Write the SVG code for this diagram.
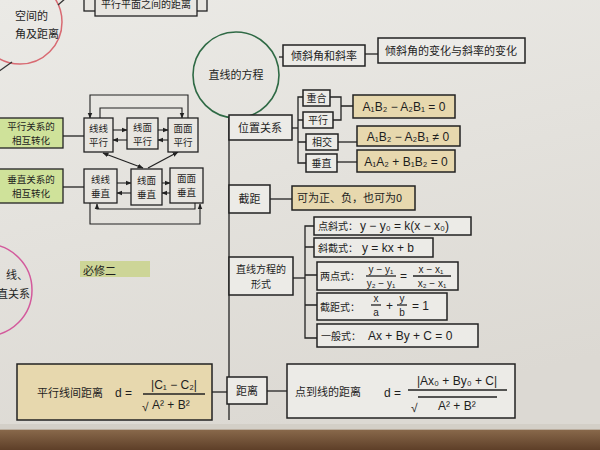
<svg xmlns="http://www.w3.org/2000/svg" width="600" height="450" viewBox="0 0 600 450">
<defs>
<linearGradient id="paper" x1="0" y1="0" x2="0.3" y2="1">
<stop offset="0" stop-color="#ebeae6"/>
<stop offset="1" stop-color="#dcd9d3"/>
</linearGradient>
<linearGradient id="wood" x1="0" y1="0" x2="0" y2="1">
<stop offset="0" stop-color="#8a6a4c"/>
<stop offset="1" stop-color="#5e3f28"/>
</linearGradient>
<marker id="ah" viewBox="0 0 10 10" refX="9" refY="5" markerWidth="6" markerHeight="6" markerUnits="userSpaceOnUse" orient="auto-start-reverse">
<path d="M0,1 L10,5 L0,9 z" fill="#222"/>
</marker>
<style>
.t{font-family:"Noto Sans CJK SC","Noto Sans",sans-serif;font-size:11px;fill:#1e1e1e}
.c{font-family:"Noto Sans CJK SC","Noto Sans",sans-serif;font-size:10px;fill:#1e1e1e}
.k{font-family:"Noto Sans CJK SC","Noto Sans",sans-serif;font-size:9.5px;fill:#1e1e1e}
.m{font-family:"Liberation Sans","DejaVu Sans",sans-serif;font-size:12px;fill:#1e1e1e}
.s{font-family:"Liberation Sans","DejaVu Sans",sans-serif;font-size:10px;fill:#1e1e1e}
.box{fill:#e8e6e1;stroke:#222;stroke-width:1.3}
.wbox{fill:#ecebe7;stroke:#222;stroke-width:1.5}
.beige{fill:#e7d8ae;stroke:#222;stroke-width:1.5}
.green{fill:#cfe29a;stroke:#222;stroke-width:1.3}
.ln{fill:none;stroke:#222;stroke-width:1.3}
.arr{fill:none;stroke:#222;stroke-width:1.1;marker-end:url(#ah)}
</style>
</defs>
<rect x="0" y="0" width="600" height="450" fill="url(#paper)"/>
<rect x="0" y="429" width="600" height="21" fill="url(#wood)"/>
<rect x="0" y="424" width="600" height="6" fill="#cfcac2" opacity="0.7"/>

<g id="circle-space">
<circle cx="20" cy="22" r="42" fill="none" stroke="#d86a72" stroke-width="1.5"/>
<line x1="58" y1="5" x2="66" y2="-2" stroke="#333" stroke-width="1.3"/>
<line x1="12" y1="62" x2="-2" y2="72" stroke="#333" stroke-width="1.3"/>
<text class="t" x="15" y="20">空间的<tspan x="15" dy="18">角及距离</tspan></text>
</g>

<g id="box-planes-distance">
<rect x="84" y="-10" width="123" height="21" class="box"/>
<rect x="95" y="-10" width="102" height="26" class="box"/>
<text class="c" x="101" y="8">平行平面之间的距离</text>
</g>

<g id="circle-lower">
<circle cx="-14" cy="290" r="46" fill="none" stroke="#d35a9c" stroke-width="1.5"/>
<text class="t" x="6" y="279">线、<tspan x="-3" dy="19">直关系</tspan></text>
</g>

<g id="label-bixiu">
<rect x="80" y="261" width="70" height="16" fill="#cdd597"/>
<text class="t" x="83" y="275" font-size="14">必修二</text>
</g>

<g id="connectors">
<line class="ln" x1="229" y1="117" x2="229" y2="420"/>
<line class="ln" x1="279" y1="57" x2="283" y2="57"/>
<line class="ln" x1="365" y1="54" x2="378" y2="54"/>
<line class="ln" x1="292" y1="128" x2="298" y2="128"/>
<path class="ln" d="M303,97 H298 V163 H306 M298,120 H303 M298,142 H306"/>
<path class="ln" d="M330,97 H341 V120 H333 M341,106 H353"/>
<line class="ln" x1="338" y1="142" x2="357" y2="142"/>
<line class="ln" x1="337" y1="162" x2="357" y2="162"/>
<line class="ln" x1="270" y1="199" x2="292" y2="199"/>
<line class="ln" x1="293" y1="278" x2="305" y2="278"/>
<path class="ln" d="M314,226 H305 V338 H317 M305,247 H314 M305,275 H317 M305,305 H317"/>
<line class="ln" x1="212" y1="392" x2="229" y2="392"/>
<line class="ln" x1="267" y1="391" x2="287" y2="391"/>
<line class="ln" x1="63" y1="136" x2="84" y2="136"/>
<line class="ln" x1="63" y1="187" x2="84" y2="187"/>
<line class="arr" x1="113" y1="130" x2="127" y2="130"/>
<line class="arr" x1="127" y1="140" x2="113" y2="140"/>
<line class="arr" x1="158" y1="130" x2="168" y2="130"/>
<line class="arr" x1="168" y1="140" x2="158" y2="140"/>
<path class="arr" d="M188,118 V95 H90 V118"/>
<path class="arr" d="M100,118 V108 H182 V118"/>
<line class="ln" x1="103" y1="153" x2="143" y2="168" marker-start="url(#ah)" marker-end="url(#ah)"/>
<line class="ln" x1="178" y1="152" x2="148" y2="168" marker-start="url(#ah)"/>
<line class="arr" x1="117" y1="183" x2="131" y2="183"/>
<line class="arr" x1="131" y1="193" x2="117" y2="193"/>
<line class="arr" x1="162" y1="183" x2="170" y2="183"/>
<line class="arr" x1="170" y1="193" x2="162" y2="193"/>
<path class="arr" d="M195,203 V209 H97 V204"/>
<path class="arr" d="M90,203 V224 H200 V204"/>
</g>

<g id="node-line-eq">
<circle cx="236" cy="75" r="43" fill="none" stroke="#2f6a45" stroke-width="1.6"/>
<text class="t" x="236" y="79" font-size="13" text-anchor="middle">直线的方程</text>
</g>

<g id="node-slope">
<rect x="283" y="45" width="82" height="21" class="wbox"/>
<text class="t" x="324" y="60" text-anchor="middle">倾斜角和斜率</text>
</g>
<g id="node-slope-change">
<rect x="378" y="38" width="147" height="25" class="wbox"/>
<text class="t" x="451" y="55" text-anchor="middle">倾斜角的变化与斜率的变化</text>
</g>

<g id="node-position">
<rect x="229" y="115" width="63" height="25" class="wbox"/>
<text class="t" x="260" y="132" text-anchor="middle">位置关系</text>
</g>
<g id="node-coincide">
<rect x="303" y="90" width="27" height="16" class="wbox"/>
<text class="c" x="316.5" y="102" text-anchor="middle">重合</text>
</g>
<g id="node-parallel">
<rect x="303" y="112" width="30" height="16" class="wbox"/>
<text class="c" x="318" y="124" text-anchor="middle">平行</text>
</g>
<g id="node-intersect">
<rect x="306" y="134" width="32" height="16" class="wbox"/>
<text class="c" x="322" y="146" text-anchor="middle">相交</text>
</g>
<g id="node-perp">
<rect x="306" y="154" width="31" height="18" class="wbox"/>
<text class="c" x="321.5" y="167" text-anchor="middle">垂直</text>
</g>
<g id="node-cond-parallel">
<rect x="353" y="95" width="102" height="23" class="beige"/>
<text class="m" x="404" y="111" text-anchor="middle" font-size="13">A₁B₂ − A₂B₁ = 0</text>
</g>
<g id="node-cond-intersect">
<rect x="357" y="126" width="103" height="20" class="beige"/>
<text class="m" x="408" y="141" text-anchor="middle" font-size="13">A₁B₂ − A₂B₁ ≠ 0</text>
</g>
<g id="node-cond-perp">
<rect x="357" y="150" width="98" height="22" class="beige"/>
<text class="m" x="406" y="166" text-anchor="middle" font-size="13">A₁A₂ + B₁B₂ = 0</text>
</g>

<g id="node-intercept">
<rect x="229" y="185" width="41" height="28" class="wbox"/>
<text class="t" x="249.5" y="203" text-anchor="middle">截距</text>
</g>
<g id="node-intercept-desc">
<rect x="292" y="186" width="123" height="24" class="beige"/>
<text class="t" x="297" y="202">可为正、负，也可为0</text>
</g>

<g id="node-forms">
<rect x="229" y="257" width="64" height="38" class="wbox"/>
<text class="c" x="261" y="273" text-anchor="middle">直线方程的<tspan x="261" dy="15">形式</tspan></text>
</g>
<g id="node-point-slope">
<rect x="314" y="217" width="157" height="18" class="wbox"/>
<text class="c" x="318" y="230">点斜式：</text>
<text class="m" x="360" y="230">y − y₀ = k(x − x₀)</text>
</g>
<g id="node-slope-intercept">
<rect x="314" y="238" width="119" height="19" class="wbox"/>
<text class="c" x="318" y="252">斜截式：</text>
<text class="m" x="362" y="252">y = kx + b</text>
</g>
<g id="node-two-point">
<rect x="317" y="262" width="141" height="28" class="wbox"/>
<text class="c" x="320" y="280">两点式：</text>
<text class="s" x="381" y="273" text-anchor="middle">y − y₁</text>
<line class="ln" x1="366" y1="276" x2="396" y2="276" stroke-width="1"/>
<text class="s" x="381" y="287" text-anchor="middle">y₂ − y₁</text>
<text class="m" x="400" y="280">=</text>
<text class="s" x="431" y="273" text-anchor="middle">x − x₁</text>
<line class="ln" x1="413" y1="276" x2="451" y2="276" stroke-width="1"/>
<text class="s" x="432" y="287" text-anchor="middle">x₂ − x₁</text>
</g>
<g id="node-intercept-form">
<rect x="317" y="293" width="130" height="27" class="wbox"/>
<text class="c" x="320" y="311">截距式：</text>
<text class="s" x="376" y="302" text-anchor="middle">x</text>
<line class="ln" x1="371" y1="305" x2="381" y2="305" stroke-width="1"/>
<text class="s" x="376" y="316" text-anchor="middle">a</text>
<text class="m" x="386" y="310">+</text>
<text class="s" x="402" y="302" text-anchor="middle">y</text>
<line class="ln" x1="397" y1="305" x2="407" y2="305" stroke-width="1"/>
<text class="s" x="402" y="316" text-anchor="middle">b</text>
<text class="m" x="412" y="310">= 1</text>
</g>
<g id="node-general">
<rect x="317" y="324" width="161" height="23" class="wbox"/>
<text class="c" x="321" y="340">一般式：</text>
<text class="m" x="368" y="340">Ax + By + C = 0</text>
</g>

<g id="node-distance">
<rect x="227" y="377" width="40" height="27" class="wbox"/>
<text class="t" x="247" y="395" text-anchor="middle">距离</text>
</g>
<g id="node-parallel-distance">
<rect x="17" y="364" width="195" height="56" class="beige"/>
<text class="t" x="37" y="397">平行线间距离</text>
<text class="m" x="115" y="397" font-size="15">d =</text>
<text class="m" x="174" y="389" text-anchor="middle">|C₁ − C₂|</text>
<line class="ln" x1="143" y1="394" x2="205" y2="394" stroke-width="1.1"/>
<text class="m" x="142" y="411">√</text>
<text class="m" x="152" y="409">A² + B²</text>
</g>
<g id="node-point-distance">
<rect x="287" y="364" width="228" height="54" class="wbox"/>
<text class="t" x="295" y="396">点到线的距离</text>
<text class="m" x="384" y="397" font-size="15">d =</text>
<text class="m" x="457" y="385" text-anchor="middle">|Ax₀ + By₀ + C|</text>
<line class="ln" x1="408" y1="390" x2="507" y2="390" stroke-width="1.1"/>
<text class="m" x="411" y="412">√</text>
<line class="ln" x1="418" y1="397" x2="497" y2="397" stroke-width="1"/>
<text class="m" x="438" y="410">A² + B²</text>
</g>

<g id="node-parallel-transform">
<rect x="-2" y="118" width="65" height="30" class="green"/>
<text class="k" x="31" y="130" text-anchor="middle">平行关系的<tspan x="31" dy="14">相互转化</tspan></text>
</g>
<g id="node-perp-transform">
<rect x="-2" y="169" width="65" height="34" class="green"/>
<text class="k" x="31" y="183" text-anchor="middle">垂直关系的<tspan x="31" dy="14">相互转化</tspan></text>
</g>
<g id="node-ll-par">
<rect x="84" y="118" width="29" height="34" class="box"/>
<text class="k" x="98.5" y="132" text-anchor="middle">线线<tspan x="98.5" dy="14">平行</tspan></text>
</g>
<g id="node-lp-par">
<rect x="127" y="118" width="31" height="31" class="box"/>
<text class="k" x="142.5" y="131" text-anchor="middle">线面<tspan x="142.5" dy="14">平行</tspan></text>
</g>
<g id="node-pp-par">
<rect x="168" y="118" width="30" height="34" class="box"/>
<text class="k" x="183" y="132" text-anchor="middle">面面<tspan x="183" dy="14">平行</tspan></text>
</g>
<g id="node-ll-perp">
<rect x="84" y="169" width="33" height="34" class="box"/>
<text class="k" x="100.5" y="183" text-anchor="middle">线线<tspan x="100.5" dy="14">垂直</tspan></text>
</g>
<g id="node-lp-perp">
<rect x="131" y="169" width="31" height="36" class="box"/>
<text class="k" x="146.5" y="184" text-anchor="middle">线面<tspan x="146.5" dy="14">垂直</tspan></text>
</g>
<g id="node-pp-perp">
<rect x="170" y="168" width="33" height="35" class="box"/>
<text class="k" x="186.5" y="182" text-anchor="middle">面面<tspan x="186.5" dy="14">垂直</tspan></text>
</g>
</svg>
